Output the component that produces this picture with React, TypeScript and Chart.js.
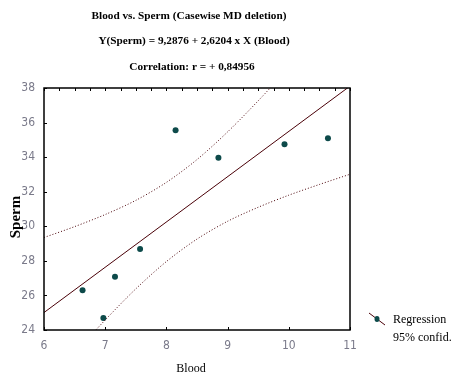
import React, { useEffect, useRef } from "react";
import { Chart, registerables } from "chart.js";

Chart.register(...registerables);

// Observed data (Blood vs Sperm)
const bloodValues = [6.63, 6.97, 7.16, 7.57, 8.15, 8.85, 9.93, 10.64];
const spermValues = [26.3, 24.7, 27.08, 28.69, 35.56, 33.97, 34.75, 35.1];

const lineX = [6, 11];
const lineY = [25.01, 38.11];

// 95% confidence band
const bandX = [6, 6.5, 7, 7.5, 8, 8.5, 9, 9.5, 10, 10.5, 11];
const bandUpper = [29.35, 29.98, 30.68, 31.5, 32.54, 33.86, 35.46, 37.26, 39.18, 41.18, 43.2];
const bandLower = [20.67, 22.66, 24.58, 26.38, 27.96, 29.26, 30.29, 31.1, 31.8, 32.42, 33.01];

const xTicks = [6, 7, 8, 9, 10, 11];
const yTicks = [24, 26, 28, 30, 32, 34, 36, 38];

const titleLines = [
  "Blood vs. Sperm (Casewise MD deletion)",
  "Y(Sperm) = 9,2876 + 2,6204 x X (Blood)",
  "Correlation: r = + 0,84956",
];
const xTitle = "Blood";
const yTitle = "Sperm";
const legendLabels = ["Regression", "95% confid."];

const LINE_COLOR = "#4a0008";
const POINT_COLOR = "#0d4a4a";
const TICK_FONT = "'Liberation Sans Narrow', 'Arial Narrow', 'DejaVu Sans Condensed', sans-serif";

const decorPlugin = {
  id: "decor",
  afterDraw(chart: any) {
    const ctx = chart.ctx;
    const a = chart.chartArea;
    const xs = chart.scales.x;
    const ys = chart.scales.y;
    ctx.save();
    // frame
    ctx.strokeStyle = "#000";
    ctx.lineWidth = 1.5;
    ctx.strokeRect(a.left, a.top, a.right - a.left, a.bottom - a.top);
    // inward ticks
    ctx.lineWidth = 1;
    ctx.beginPath();
    for (let v = xTicks[0]; v <= xTicks[xTicks.length - 1] + 1e-9; v += 0.25) {
      const px = Math.round(xs.getPixelForValue(v)) + 0.5;
      ctx.moveTo(px, a.top);
      ctx.lineTo(px, a.top + 3);
    }
    for (const v of xTicks) {
      const px = Math.round(xs.getPixelForValue(v)) + 0.5;
      ctx.moveTo(px, a.bottom);
      ctx.lineTo(px, a.bottom - 3);
    }
    for (const v of yTicks) {
      const py = Math.round(ys.getPixelForValue(v)) + 0.5;
      ctx.moveTo(a.left, py);
      ctx.lineTo(a.left + 3, py);
    }
    ctx.stroke();

    // titles
    ctx.fillStyle = "#000";
    ctx.textAlign = "center";
    ctx.textBaseline = "middle";
    ctx.font = "bold 11.25px 'Liberation Serif', 'Times New Roman', serif";
    const tys = [16, 41, 67];
    const txs = [189, 194, 192];
    titleLines.forEach((t, i) => ctx.fillText(t, txs[i], tys[i]));

    // axis titles
    ctx.font = "12px 'Liberation Serif', 'Times New Roman', serif";
    ctx.fillText(xTitle, 191, 369);
    ctx.save();
    ctx.translate(16, 217);
    ctx.rotate(-Math.PI / 2);
    ctx.font = "bold 15px 'Liberation Serif', 'Times New Roman', serif";
    ctx.fillText(yTitle, 0, 0);
    ctx.restore();

    // legend
    ctx.strokeStyle = LINE_COLOR;
    ctx.lineWidth = 1;
    ctx.beginPath();
    ctx.moveTo(369, 313);
    ctx.lineTo(385, 325);
    ctx.stroke();
    ctx.fillStyle = POINT_COLOR;
    ctx.beginPath();
    ctx.ellipse(377, 319, 2.5, 3, 0, 0, Math.PI * 2);
    ctx.fill();
    ctx.fillStyle = "#000";
    ctx.textAlign = "left";
    ctx.font = "12px 'Liberation Serif', 'Times New Roman', serif";
    ctx.fillText(legendLabels[0], 393, 320);
    ctx.fillText(legendLabels[1], 393, 338);
    ctx.restore();
  },
};

export default function App() {
  const ref = useRef<HTMLCanvasElement | null>(null);
  useEffect(() => {
    document.body.style.margin = "0";
    const canvas = ref.current;
    if (!canvas) return;
    const chart = new Chart(canvas, {
      type: "scatter",
      data: {
        datasets: [
          {
            label: "upper",
            data: bandX.map((x, i) => ({ x, y: bandUpper[i] })),
            showLine: true,
            borderColor: LINE_COLOR,
            borderWidth: 1,
            borderDash: [1, 2],
            pointRadius: 0,
            tension: 0.3,
            fill: false,
          },
          {
            label: "lower",
            data: bandX.map((x, i) => ({ x, y: bandLower[i] })),
            showLine: true,
            borderColor: LINE_COLOR,
            borderWidth: 1,
            borderDash: [1, 2],
            pointRadius: 0,
            tension: 0.3,
            fill: false,
          },
          {
            label: "Regression",
            data: lineX.map((x, i) => ({ x, y: lineY[i] })),
            showLine: true,
            borderColor: LINE_COLOR,
            borderWidth: 1,
            pointRadius: 0,
          },
          {
            label: "data",
            data: bloodValues.map((x, i) => ({ x, y: spermValues[i] })),
            pointRadius: 3,
            pointStyle: "circle",
            backgroundColor: POINT_COLOR,
            borderColor: POINT_COLOR,
            borderWidth: 0,
          },
        ],
      },
      options: {
        responsive: false,
        animation: false,
        layout: { padding: { top: 88, right: 109, left: 0, bottom: 0 } },
        plugins: { legend: { display: false }, tooltip: { enabled: false }, title: { display: false } },
        scales: {
          x: {
            type: "linear",
            min: 6,
            max: 11,
            afterFit: (s: any) => { s.height = 56; },
            afterBuildTicks: (s: any) => { s.ticks = xTicks.map((v) => ({ value: v })); },
            grid: { display: false, drawTicks: false },
            border: { display: false },
            ticks: {
              color: "#7a7a8a",
              font: { family: TICK_FONT, size: 12 },
              padding: 9,
            },
          },
          y: {
            type: "linear",
            min: 24,
            max: 38,
            afterFit: (s: any) => { s.width = 44; },
            afterBuildTicks: (s: any) => { s.ticks = yTicks.map((v) => ({ value: v })); },
            grid: { display: false, drawTicks: false },
            border: { display: false },
            ticks: {
              color: "#7a7a8a",
              font: { family: TICK_FONT, size: 12 },
              padding: 9,
            },
          },
        },
      },
      plugins: [decorPlugin],
    });
    return () => chart.destroy();
  }, []);
  return (
    <div style={{ width: 459, height: 386, background: "#fff" }}>
      <canvas ref={ref} width={459} height={386} />
    </div>
  );
}
